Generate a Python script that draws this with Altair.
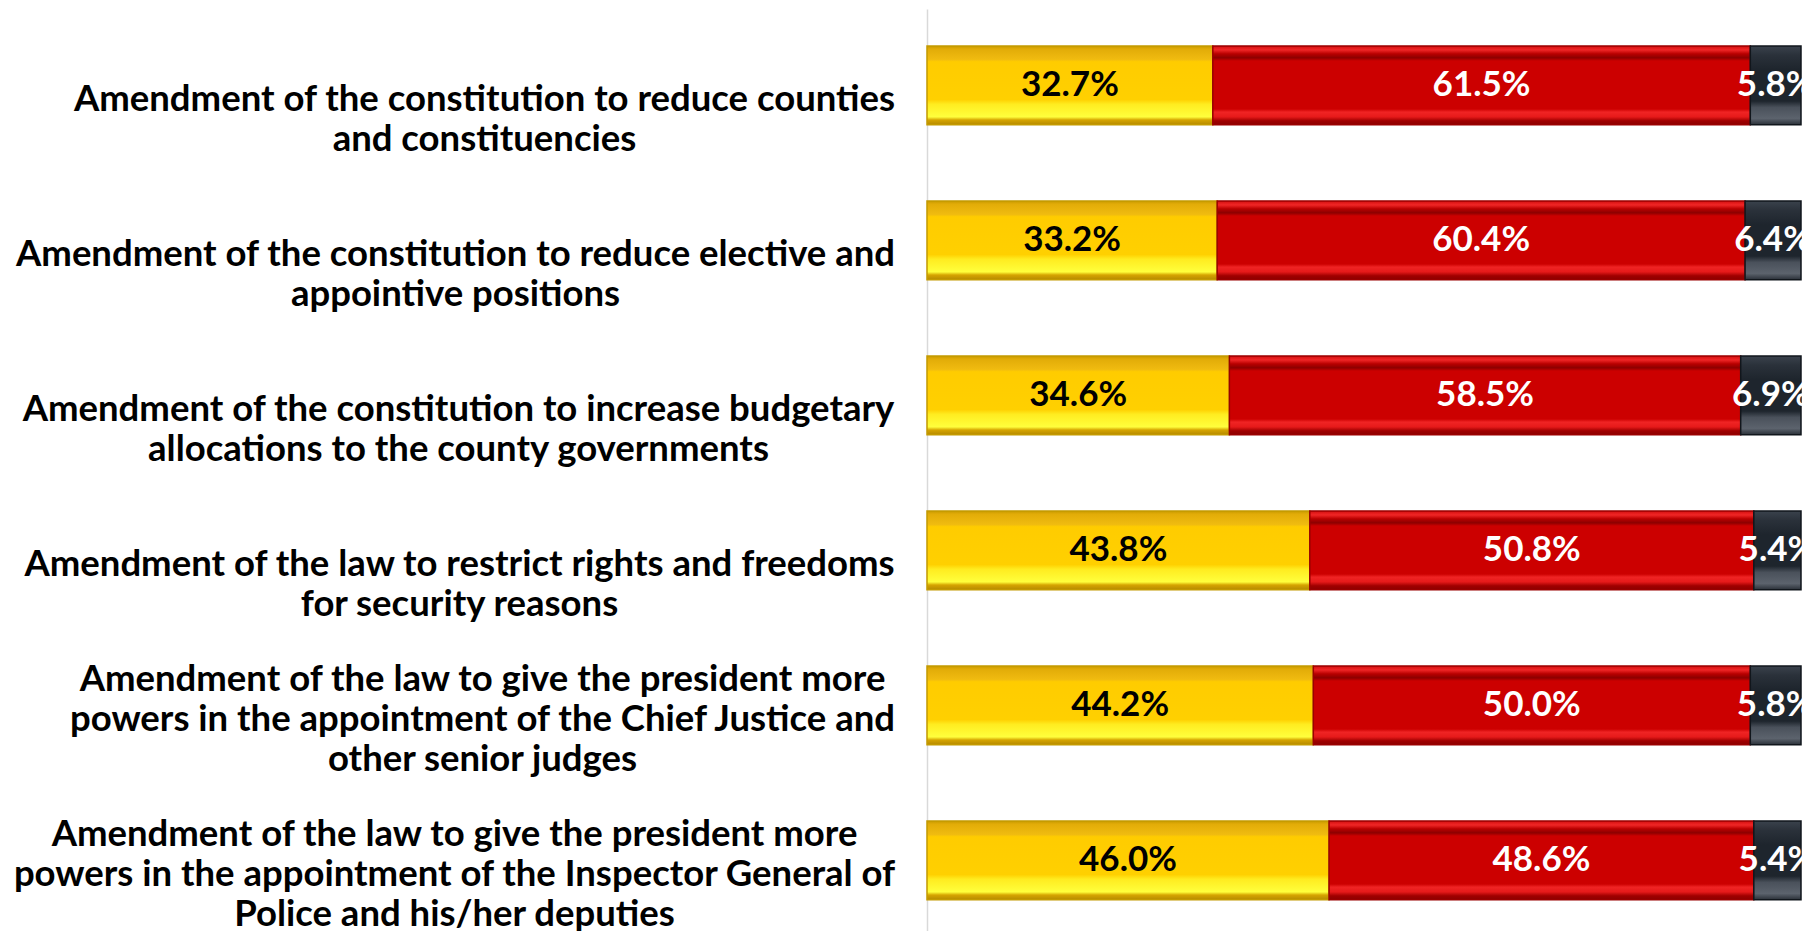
import altair as alt
import pandas as pd

categories = [
    "Amendment of the constitution to reduce counties|and constituencies",
    "Amendment of the constitution to reduce elective and|appointive positions",
    "Amendment of the constitution to increase budgetary|allocations to the county governments",
    "Amendment of the law to restrict rights and freedoms|for security reasons",
    "Amendment of the law to give the president more|powers in the appointment of the Chief Justice and|other senior judges",
    "Amendment of the law to give the president more|powers in the appointment of the Inspector General of|Police and his/her deputies",
]
responses = ["Support", "Oppose", "Don't know"]
support = [32.7, 33.2, 34.6, 43.8, 44.2, 46.0]
oppose = [61.5, 60.4, 58.5, 50.8, 50.0, 48.6]
dont_know = [5.8, 6.4, 6.9, 5.4, 5.8, 5.4]

# styling: distance from the axis to the centre of each label block (px)
label_centre_pad = [443, 472, 469, 468, 445, 473]

rows = []
for i, c in enumerate(categories):
    for j, (r, v) in enumerate(zip(responses, [support[i], oppose[i], dont_know[i]])):
        rows.append({"cat": c, "response": r, "value": v, "order": j})
df = pd.DataFrame(rows)

FONT = "Lato"
LINE_H = 40

pad_expr = "".join(
    f"datum.value == '{c}' ? {p} : " for c, p in zip(categories, label_centre_pad)
) + "450"
offset_expr = f"66 - {LINE_H} * (length(split(datum.value, '|')) - 1)"

y_enc = alt.Y(
    "cat:N",
    sort=categories,
    scale=alt.Scale(paddingInner=0.492, paddingOuter=0.220, align=0.542),
    axis=alt.Axis(
        title=None,
        ticks=False,
        domainColor="#D9D9D9",
        domainWidth=1.5,
        labelExpr="split(datum.label, '|')",
        labelAlign="center",
        labelBaseline="alphabetic",
        labelOffset={"expr": offset_expr},
        labelPadding={"expr": pad_expr},
        labelFont=FONT,
        labelFontWeight="bold",
        labelFontSize=36.5,
        labelLineHeight=LINE_H,
        labelLimit=0,
        labelColor="#000000",
    ),
)
x_scale = alt.Scale(domain=[0, 100], nice=False, zero=True)

base = alt.Chart(df).transform_stack(
    stack="value", groupby=["cat"], as_=["x0", "x1"], sort=[alt.SortField("order")]
).transform_calculate(
    mid="(datum.x0 + datum.x1) / 2",
    label="format(datum.value, '.1f') + '%'",
)


def grad(stops):
    return alt.Gradient(
        gradient="linear",
        stops=[alt.GradientStop(color=c, offset=o) for o, c in stops],
        x1=0, x2=0, y1=0, y2=1,
    )


yellow = grad([(0.0, "#C99A00"), (0.04, "#E2AC08"), (0.17, "#F0BB10"), (0.2, "#FFCC00"),
               (0.68, "#FFD000"), (0.74, "#FFEC20"), (0.9, "#FFFF3C"), (0.94, "#D6A400"), (1.0, "#B58A00")])
red = grad([(0.0, "#D41010"), (0.05, "#F02626"), (0.1, "#B80000"), (0.15, "#8C0000"), (0.19, "#CC0000"),
            (0.8, "#CC0000"), (0.84, "#F02424"), (0.9, "#E61A1A"), (0.95, "#A00000"), (1.0, "#8C0000")])
dark = grad([(0.0, "#3A424C"), (0.12, "#2A313A"), (0.3, "#1E252D"), (0.7, "#1E252D"),
             (0.78, "#4A515B"), (0.92, "#5C636D"), (1.0, "#2A3038")])

layers = []
for resp, fillc, strokec in [("Support", yellow, "#C49A00"), ("Oppose", red, "#9A0000"), ("Don't know", dark, "#11161C")]:
    layers.append(
        base.transform_filter(alt.datum.response == resp)
        .mark_bar(color=fillc, stroke=strokec, strokeWidth=1.5)
        .encode(
            y=y_enc,
            x=alt.X("x0:Q", scale=x_scale, axis=None),
            x2="x1:Q",
        )
    )

text = base.mark_text(font=FONT, fontWeight="bold", fontSize=35, baseline="middle", align="center").encode(
    y=y_enc,
    x=alt.X("mid:Q", scale=x_scale, axis=None),
    text="label:N",
    color=alt.condition(alt.datum.response == "Support", alt.value("#000000"), alt.value("#FFFFFF")),
)

chart = alt.layer(*layers, text).properties(
    width=874,
    height=922,
    autosize=alt.AutoSizeParams(type="none"),
    padding={"left": 919, "top": 1, "right": 5, "bottom": 4},
    background="#FFFFFF",
).configure_view(strokeWidth=0)

chart.save("out.html", embed_options={"renderer": "svg", "actions": False})
